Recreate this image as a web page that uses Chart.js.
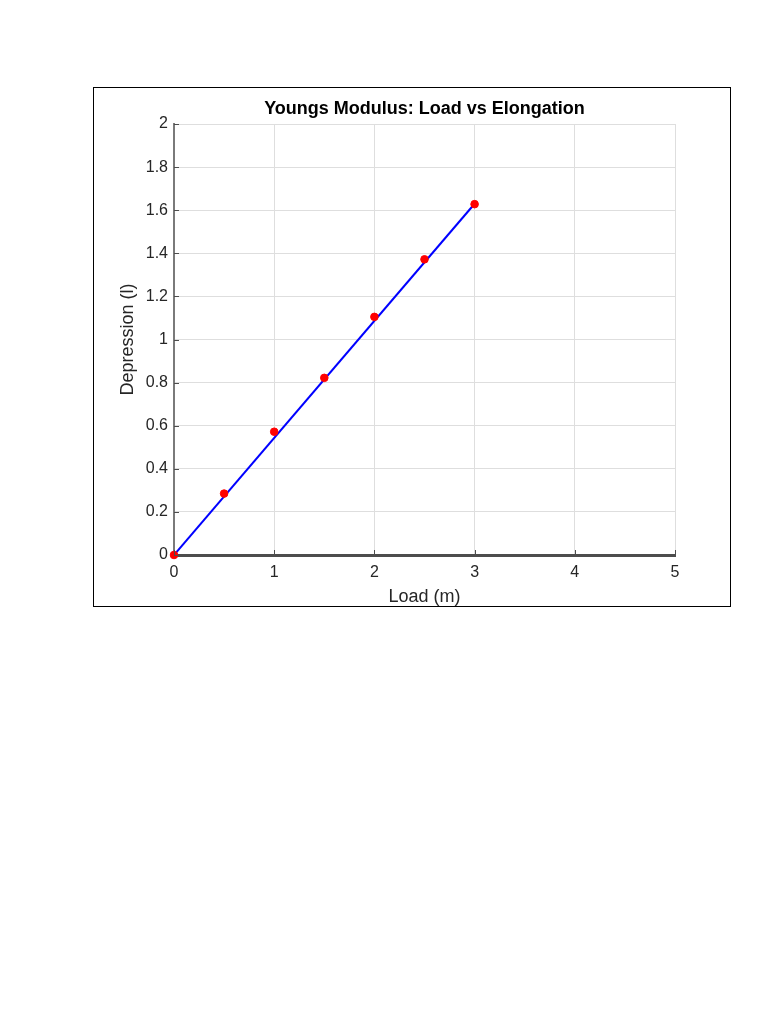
<!DOCTYPE html>
<html>
<head>
<meta charset="utf-8">
<script src="https://cdn.jsdelivr.net/npm/chart.js@4"></script>
<style>
  html, body { margin: 0; padding: 0; background: #fff; }
  #frame {
    position: absolute; left: 93px; top: 87px;
    width: 636px; height: 518px;
    border: 1px solid #000;
  }
  #chart { display: block; }
</style>
</head>
<body>
<div id="frame"><canvas id="chart" width="636" height="518"></canvas></div>
<script>
  // valores
  const loadValues = [0, 0.5, 1, 1.5, 2, 2.5, 3];
  const depressionValues = [0, 0.285, 0.572, 0.822, 1.105, 1.372, 1.628];
  // recta ajustada (extremos)
  const fitLoad = [0, 3];
  const fitDepression = [0, 1.63];

  const xTicks = [0, 1, 2, 3, 4, 5];
  const yTicks = [0, 0.2, 0.4, 0.6, 0.8, 1, 1.2, 1.4, 1.6, 1.8, 2];

  const FONT = "'Liberation Sans', Arial, sans-serif";
  const AXIS_DARK = '#4d4d4d';

  // marcas de tick hacia adentro, estilo MATLAB
  const innerTicks = {
    id: 'innerTicks',
    afterDatasetsDraw(chart) {
      const { ctx, chartArea, scales } = chart;
      ctx.save();
      ctx.strokeStyle = AXIS_DARK;
      ctx.lineWidth = 1;
      scales.y.ticks.forEach((t) => {
        const py = Math.round(scales.y.getPixelForValue(t.value)) + 0.5;
        ctx.beginPath();
        ctx.moveTo(chartArea.left, py);
        ctx.lineTo(chartArea.left + 5, py);
        ctx.stroke();
      });
      scales.x.ticks.forEach((t) => {
        const px = Math.round(scales.x.getPixelForValue(t.value)) + 0.5;
        ctx.beginPath();
        ctx.moveTo(px, chartArea.bottom);
        ctx.lineTo(px, chartArea.bottom - 5);
        ctx.stroke();
      });
      ctx.restore();
    }
  };

  new Chart(document.getElementById('chart'), {
    type: 'scatter',
    data: {
      datasets: [
        {
          label: 'fit',
          data: fitLoad.map((x, i) => ({ x: x, y: fitDepression[i] })),
          showLine: true,
          borderColor: '#0000ff',
          borderWidth: 2,
          pointRadius: 0,
          order: 2
        },
        {
          label: 'data',
          data: loadValues.map((x, i) => ({ x: x, y: depressionValues[i] })),
          showLine: false,
          backgroundColor: '#ff0000',
          borderColor: '#ff0000',
          pointRadius: 3.8,
          clip: false,
          order: 1
        }
      ]
    },
    options: {
      responsive: false,
      animation: false,
      layout: { padding: { left: 0, right: 55, top: 0, bottom: 0 } },
      plugins: {
        legend: { display: false },
        tooltip: { enabled: false },
        title: {
          display: true,
          fullSize: false,
          text: 'Youngs Modulus: Load vs Elongation',
          color: '#000',
          font: { family: FONT, size: 18, weight: 'bold' },
          padding: { top: 10, bottom: 4.4 }
        }
      },
      scales: {
        x: {
          type: 'linear',
          min: 0, max: 5,
          afterBuildTicks: (s) => { s.ticks = xTicks.map((v) => ({ value: v })); },
          afterFit: (s) => { s.height = 51; },
          grid: { color: '#dedede', lineWidth: 1, drawTicks: false },
          border: { color: AXIS_DARK, width: 3 },
          ticks: {
            color: '#262626', padding: 8,
            font: { family: FONT, size: 16 }
          },
          title: {
            display: true, text: 'Load (m)', color: '#262626',
            font: { family: FONT, size: 18, lineHeight: 1 },
            padding: { top: 0, bottom: 0 }
          }
        },
        y: {
          type: 'linear',
          min: 0, max: 2,
          afterBuildTicks: (s) => { s.ticks = yTicks.map((v) => ({ value: v })); },
          afterFit: (s) => { s.width = 80; },
          grid: { color: '#dedede', lineWidth: 1, drawTicks: false },
          border: { color: '#7a7a7a', width: 2 },
          ticks: {
            color: '#262626', padding: 6,
            font: { family: FONT, size: 16 },
            callback: (v) => String(Number(Number(v).toFixed(1)))
          },
          title: {
            display: true, text: 'Depression (l)', color: '#262626',
            font: { family: FONT, size: 18 },
            padding: { top: 23, bottom: 0 }
          }
        }
      }
    },
    plugins: [innerTicks]
  });
</script>
</body>
</html>
